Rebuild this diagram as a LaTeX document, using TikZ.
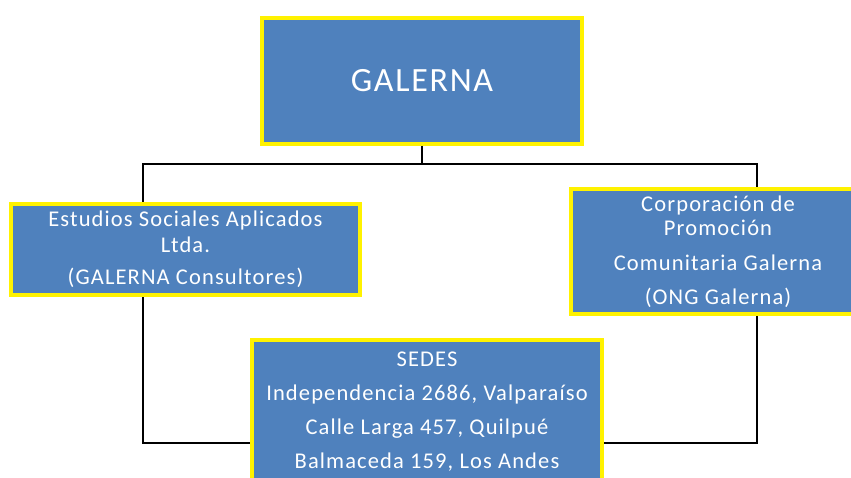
\documentclass[tikz,border=0pt]{standalone}
\usepackage{fontspec}
\setmainfont{Carlito}
\newfontfamily\boxfont[LetterSpace=5]{Carlito}
\newfontfamily\titlefont[LetterSpace=5]{Carlito}
\usepackage{tikz}

\definecolor{boxblue}{HTML}{4F81BD}

\begin{document}
\begin{tikzpicture}[x=1pt, y=-1pt,
	orgbox/.style={draw=yellow, line width=4pt, fill=boxblue, text=white, align=center, inner sep=0pt},
	link/.style={draw=black, line width=1.5pt}]

	\useasboundingbox (0, 0) rectangle (851, 478);
	\clip (0, 0) rectangle (851, 478);

	\node [orgbox, minimum width=320pt, minimum height=126pt, font=\titlefont\fontsize{34}{38}\selectfont] (galerna) at (422, 81) {GALERNA};

	\node [orgbox, minimum width=349pt, minimum height=91pt, font=\boxfont\fontsize{22.5}{26}\selectfont] (esa) at (185.5, 249.5)
		{Estudios Sociales Aplicados\\ Ltda.\\[6pt] (GALERNA Consultores)};

	\node [orgbox, minimum width=294pt, minimum height=125pt, font=\boxfont\fontsize{22.5}{24}\selectfont] (ong) at (718, 251.5)
		{Corporación de\\ Promoción\\[11pt] Comunitaria Galerna\\[10pt] (ONG Galerna)};

	\node [orgbox, minimum width=350pt, minimum height=144pt, font=\boxfont\fontsize{22.5}{34}\selectfont] (sedes) at (427, 412)
		{SEDES\\ Independencia 2686, Valparaíso\\ Calle Larga 457, Quilpué\\ Balmaceda 159, Los Andes};

	\coordinate (bus) at (422, 164);
	\coordinate (lcorner) at (143, 443);
	\coordinate (rcorner) at (757, 443);

	\draw [link] (galerna.south) -- (bus);
	\draw [link] (bus) -| (lcorner |- esa.north);
	\draw [link] (bus) -| (rcorner |- ong.north);
	\draw [link] (lcorner |- esa.south) -- (lcorner) -- (lcorner -| sedes.west);
	\draw [link] (rcorner |- ong.south) -- (rcorner) -- (rcorner -| sedes.east);

\end{tikzpicture}
\end{document}
